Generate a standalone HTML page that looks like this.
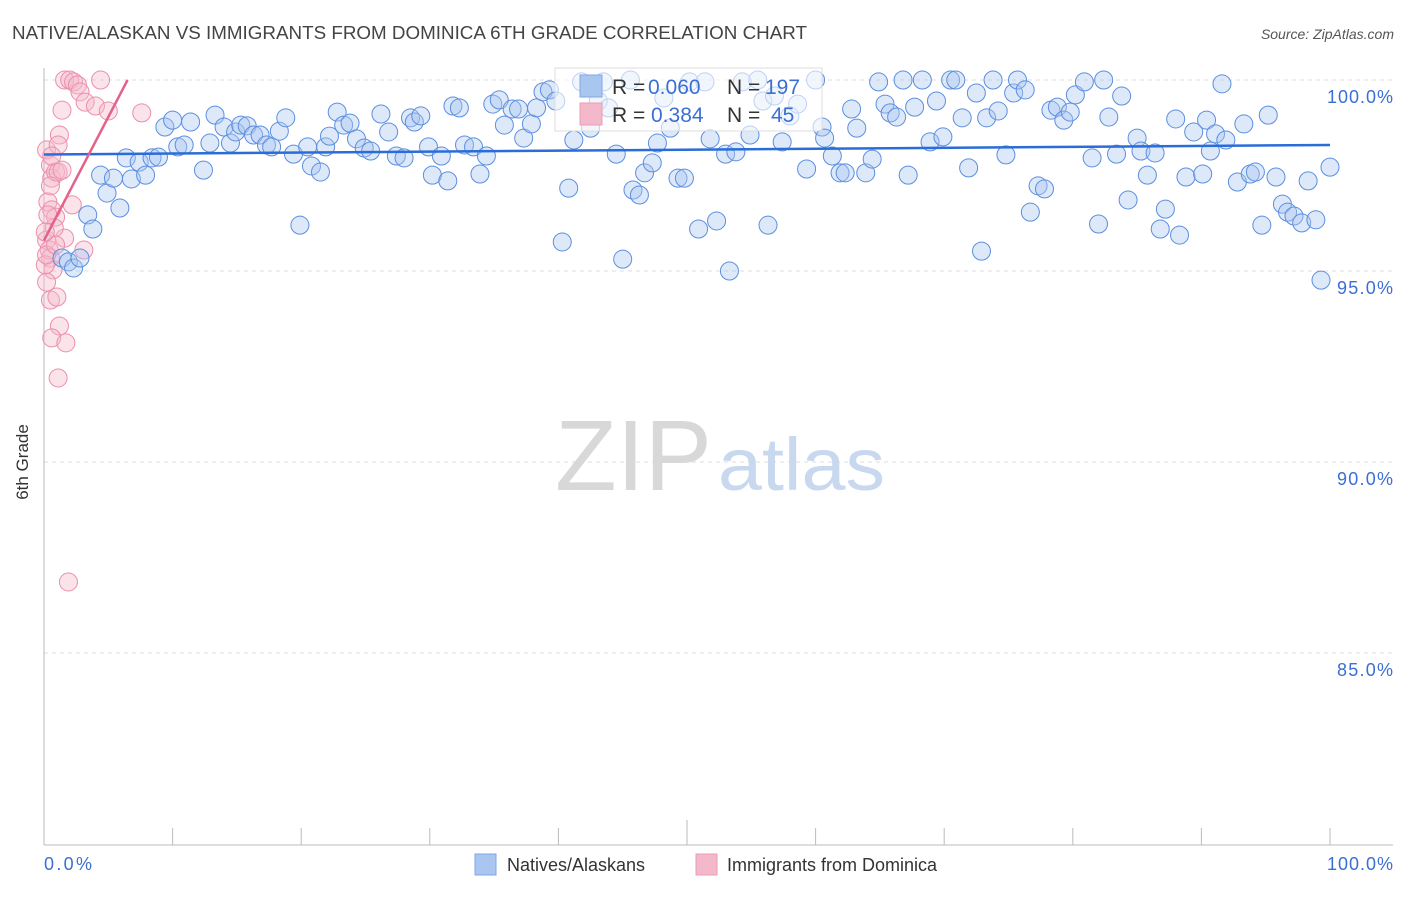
<!DOCTYPE html>
<html><head><meta charset="utf-8"><style>
body{margin:0;background:#fff;font-family:"Liberation Sans",sans-serif}
svg text{font-family:"Liberation Sans",sans-serif}
</style></head><body>
<svg id="chart" width="1406" height="892" viewBox="0 0 1406 892" xmlns="http://www.w3.org/2000/svg">
<text x="12" y="39" font-size="18" fill="#444" textLength="795" lengthAdjust="spacingAndGlyphs">NATIVE/ALASKAN VS IMMIGRANTS FROM DOMINICA 6TH GRADE CORRELATION CHART</text>
<text x="1394" y="39" font-size="14" fill="#555" text-anchor="end" font-style="italic">Source: ZipAtlas.com</text>
<g id="grid"></g>
<text x="555" y="490" font-size="100" fill="#d8d8d8" font-family="Liberation Serif" textLength="157" lengthAdjust="spacingAndGlyphs">ZIP</text>
<text x="718" y="490" font-size="74" fill="#c8d8ee" textLength="167" lengthAdjust="spacingAndGlyphs">atlas</text>
<line x1="44" y1="68" x2="44" y2="845" stroke="#bbb"/>
<line x1="44" y1="845" x2="1393" y2="845" stroke="#bbb"/>
<g id="xticks"></g>
<text x="22" y="456" font-size="17" fill="#333" transform="rotate(-90 28 456)" text-anchor="middle">6th Grade</text>
<g id="ylabels"></g>
<text x="44" y="870" font-size="18" fill="#3b6fd4" textLength="48">0.0%</text>
<text x="1327" y="870" font-size="18" fill="#3b6fd4" textLength="66">100.0%</text>
<g id="pts"></g>
<g id="trends"></g>
<g>
<rect x="555" y="68" width="267" height="63" fill="#fff" fill-opacity="0.6" stroke="#ddd"/>
<rect x="580" y="75" width="22" height="22" fill="#a9c6f0" stroke="#7fa7e6"/>
<rect x="580" y="103" width="22" height="22" fill="#f4b8cb" stroke="#eb9cb5"/>
<text x="612" y="94" font-size="21" fill="#333">R = <tspan fill="#3b6fd4" x="648">0.060</tspan><tspan x="727">N = </tspan><tspan fill="#3b6fd4" x="765">197</tspan></text>
<text x="612" y="122" font-size="21" fill="#333">R = <tspan fill="#3b6fd4" x="651">0.384</tspan><tspan x="727">N = </tspan><tspan fill="#3b6fd4" x="771">45</tspan></text>
</g>
<g>
<rect x="475" y="854" width="21" height="21" fill="#a9c6f0" stroke="#7fa7e6"/>
<text x="507" y="871" font-size="18" fill="#333">Natives/Alaskans</text></g>
<g>
<rect x="696" y="854" width="21" height="21" fill="#f4b8cb" stroke="#eb9cb5"/>
<text x="727" y="871" font-size="18" fill="#333">Immigrants from Dominica</text></g>
</svg>
<script>
const yTicks=[100,95,90,85];
const xTickVals=[10,20,30,40,50,60,70,80,90,100];
const blueX=[1.4,1.9,2.3,2.8,3.4,3.8,4.4,4.9,5.4,5.9,6.4,6.8,7.4,7.9,8.4,8.9,9.4,10.0,10.4,10.9,11.4,12.4,12.9,13.3,14.0,14.5,14.9,15.3,15.8,16.3,16.8,17.3,17.7,18.3,18.8,19.4,19.9,20.5,20.8,21.5,21.9,22.2,22.8,23.3,23.8,24.3,24.9,25.4,26.2,26.8,27.4,28.0,28.5,28.8,29.3,29.9,30.2,30.9,31.4,31.8,32.3,32.7,33.4,33.9,34.4,34.9,35.4,35.8,36.4,36.9,37.3,37.9,38.3,38.8,39.3,39.8,40.3,40.8,41.2,41.8,42.5,43.1,43.5,43.9,44.5,45.0,45.6,45.8,46.3,46.7,47.3,47.7,48.2,48.7,49.3,49.8,50.2,50.9,51.4,51.8,52.3,53.0,53.3,53.8,54.3,54.9,55.5,55.9,56.3,56.8,57.4,58.0,58.6,59.3,60.0,60.5,60.7,61.3,61.9,62.3,62.8,63.2,63.9,64.4,64.9,65.4,65.8,66.3,66.8,67.2,67.7,68.3,68.9,69.4,69.9,70.5,70.9,71.4,71.9,72.5,72.9,73.3,73.8,74.2,74.8,75.4,75.7,76.3,76.7,77.3,77.8,78.3,78.8,79.3,79.8,80.2,80.9,81.5,82.0,82.4,82.8,83.4,83.8,84.3,85.0,85.3,85.8,86.4,86.8,87.2,88.0,88.3,88.8,89.4,90.1,90.4,90.7,91.1,91.6,91.9,92.8,93.3,93.8,94.2,94.7,95.2,95.8,96.3,96.7,97.2,97.8,98.3,98.9,99.3,100];
const blueY=[95.34,95.24,95.08,95.34,96.47,96.10,97.51,97.04,97.43,96.65,97.96,97.41,97.85,97.51,97.96,97.98,98.77,98.95,98.25,98.30,98.90,97.64,98.35,99.08,98.77,98.35,98.64,98.82,98.80,98.56,98.56,98.30,98.25,98.66,99.01,98.06,96.20,98.25,97.75,97.59,98.25,98.53,99.16,98.82,98.87,98.46,98.22,98.14,99.11,98.64,98.01,97.96,99.01,98.90,99.06,98.25,97.51,98.01,97.36,99.32,99.27,98.30,98.25,97.54,98.01,99.37,99.48,98.82,99.24,99.24,98.48,98.85,99.27,99.69,99.74,99.45,95.76,97.17,98.43,99.95,98.74,99.45,99.95,99.27,98.06,95.31,100,97.12,96.99,97.57,97.83,98.35,99.53,98.74,97.43,97.43,99.95,96.10,99.95,98.46,96.31,98.06,95.00,98.12,99.95,98.56,100,99.45,96.20,99.58,98.38,99.06,99.37,97.67,100,98.77,98.48,98.01,97.57,97.57,99.24,98.74,97.57,97.93,99.95,99.37,99.14,99.03,100,97.51,99.29,100,98.38,99.45,98.51,100,100,99.01,97.70,99.66,95.52,99.01,100,99.19,98.04,99.66,100,99.74,96.54,97.23,97.15,99.21,99.29,98.95,99.16,99.61,99.95,97.96,96.23,100,99.03,98.06,99.58,96.86,98.48,98.14,97.51,98.09,96.10,96.62,98.98,95.94,97.46,98.64,97.54,98.95,98.14,98.59,99.90,98.43,97.33,98.85,97.54,97.59,96.20,99.08,97.46,96.75,96.54,96.44,96.26,97.36,96.34,94.76,97.72];
const pinkX=[0.2,0.5,0.6,0.9,1.1,1.2,1.4,1.6,2.0,2.3,2.6,2.8,3.2,4.0,4.4,5.0,7.6,0.3,0.6,0.9,0.2,0.4,0.5,0.7,0.2,0.5,1.0,1.2,0.6,1.7,1.1,1.9,2.2,3.1,1.6,0.8,0.5,0.1,0.2,0.9,1.4,1.1,0.3,0.1,0.6];
const pinkY=[98.17,97.77,97.43,97.59,97.59,98.56,99.21,100,100,99.95,99.87,99.69,99.42,99.32,100,99.19,99.14,96.81,96.60,96.41,95.81,95.55,95.34,95.03,94.71,94.24,94.32,93.56,93.25,93.12,92.20,86.86,96.73,95.55,95.86,96.13,97.23,95.16,95.42,95.68,97.64,98.30,96.47,96.02,98.01];
const blueTrendX=[0,100], blueTrendY=[98.05,98.3];
const pinkTrendX=[0,6.5], pinkTrendY=[95.8,100];
const NS="http://www.w3.org/2000/svg";
const X=v=>44+v*12.86, Y=v=>80+(100-v)*38.2;
function mk(tag,attrs,parent){const e=document.createElementNS(NS,tag);for(const k in attrs)e.setAttribute(k,attrs[k]);document.getElementById(parent).appendChild(e);return e;}
yTicks.forEach(t=>{
 const l=mk('line',{x1:44,x2:1393,y1:Y(t),y2:Y(t),stroke:'#ddd','stroke-dasharray':'4,4'},'grid');
 
 
 const lbl=t.toFixed(1)+'%';
 const w=lbl.length===6?66:56;
 const tx=mk('text',{x:1393-w,y:Y(t)+23,'font-size':18,fill:'#3b6fd4',textLength:w},'ylabels');
 tx.textContent=lbl;
 
 
});
xTickVals.forEach(t=>{
 const l=mk('line',{x1:X(t),x2:X(t),y1:t===50?820:828,y2:845,stroke:'#bbb'},'xticks');
 
 
});
pinkX.forEach((x,i)=>{
 const c=mk('circle',{cx:X(x),cy:Y(pinkY[i]),r:9,fill:'#f4b8cb','fill-opacity':0.4,stroke:'#eb8fae','stroke-width':1},'pts');
 
 
});
blueX.forEach((x,i)=>{
 const c=mk('circle',{cx:X(x),cy:Y(blueY[i]),r:9,fill:'#a9c6f0','fill-opacity':0.4,stroke:'#5b8fe0','stroke-width':1},'pts');
 
 
});
const bl=mk('line',{x1:X(blueTrendX[0]),y1:Y(blueTrendY[0]),x2:X(blueTrendX[1]),y2:Y(blueTrendY[1]),stroke:'#2a6dd8','stroke-width':2.5},'trends');


const pl=mk('line',{x1:X(pinkTrendX[0]),y1:Y(pinkTrendY[0]),x2:X(pinkTrendX[1]),y2:Y(pinkTrendY[1]),stroke:'#e4628a','stroke-width':2.5},'trends');


</script>
</body></html>
